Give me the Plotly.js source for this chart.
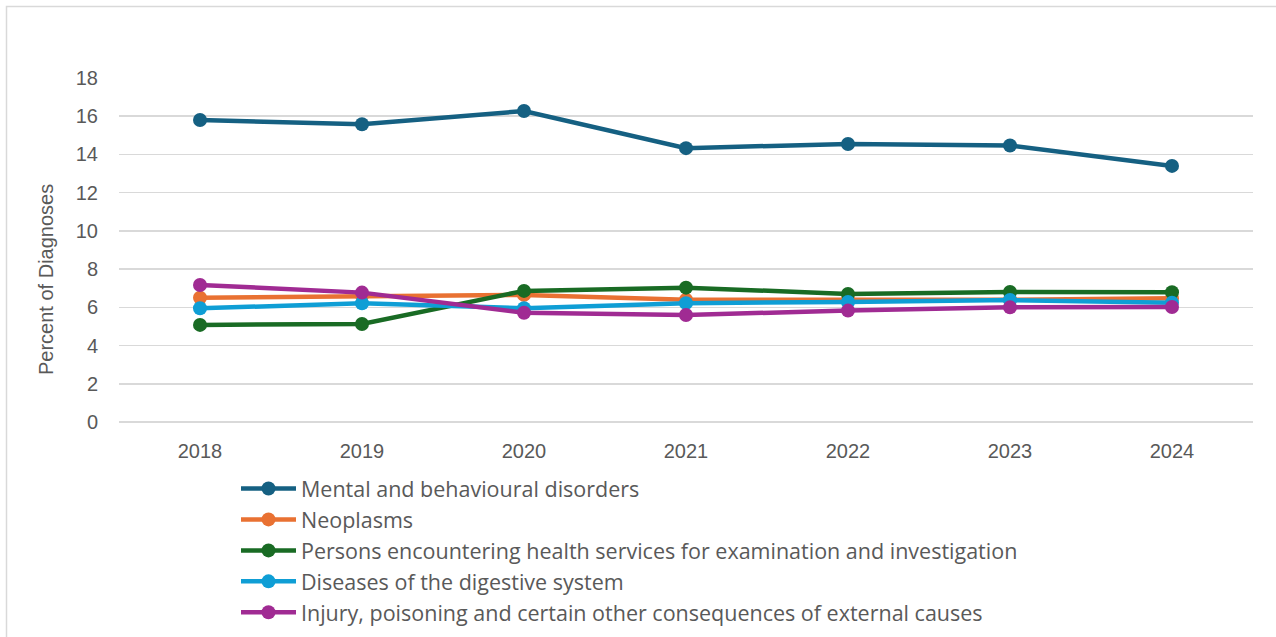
<!DOCTYPE html>
<html><head><meta charset="utf-8">
<script src="https://cdn.plot.ly/plotly-3.0.1.min.js"></script>
<style>html,body{margin:0;padding:0;background:#fff}#chart{width:1276px;height:637px}</style>
</head><body><div id="chart"></div>
<script>
const years = ['2018','2019','2020','2021','2022','2023','2024'];
const seriesNames = [
  'Mental and behavioural disorders',
  'Neoplasms',
  'Persons encountering health services for examination and investigation',
  'Diseases of the digestive system',
  'Injury, poisoning and certain other consequences of external causes'
];
const yTitle = 'Percent of Diagnoses';
const mental    = [15.80, 15.58, 16.27, 14.33, 14.55, 14.47, 13.40];
const neoplasms = [6.50, 6.60, 6.65, 6.40, 6.40, 6.40, 6.47];
const persons   = [5.08, 5.13, 6.86, 7.03, 6.70, 6.80, 6.79];
const digestive = [5.95, 6.21, 5.95, 6.22, 6.28, 6.38, 6.24];
const injury    = [7.17, 6.77, 5.72, 5.60, 5.83, 6.00, 6.02];
const colors = ['#156082','#E97132','#196B24','#0F9ED5','#A02B93'];
const values = [mental, neoplasms, persons, digestive, injury];

const axisFont = "'Liberation Sans', Arial, sans-serif";
const legendFont = "'Open Sans', sans-serif";
const traces = values.map((v,i)=>({
  type:'scatter', mode:'lines+markers', x:years, y:v, name:seriesNames[i],
  legendgroup:'g'+i,
  line:{color:colors[i], width:4.5},
  marker:{color:colors[i], size:14},
  hoverinfo:'skip'
}));

const L=119, R=1253, T=78, B=422, W=1276, H=637;
const px2x = p => (p-L)/(R-L);
const px2y = p => (B-p)/(B-T);

const layout = {
  width:W, height:H,
  margin:{l:L, r:W-R, t:T, b:H-B, autoexpand:false},
  paper_bgcolor:'#fff', plot_bgcolor:'#fff',
  font:{family:axisFont, color:'#595959', size:20},
  showlegend:true,
  xaxis:{type:'category', range:[-0.5,6.5], showgrid:false, zeroline:false,
    showline:false, ticks:'', tickfont:{size:20, color:'#595959'}, ticklabelstandoff:15, fixedrange:true},
  yaxis:{range:[0,18], dtick:2, tick0:0, showgrid:true, gridcolor:'#d9d9d9', gridwidth:1.5,
    zeroline:true, zerolinecolor:'#d9d9d9', zerolinewidth:1.5, showline:false, ticks:'',
    tickfont:{size:20, color:'#595959'}, ticklabelstandoff:20, fixedrange:true},
  annotations:[{text:yTitle, xref:'paper', yref:'paper', x:px2x(46), y:px2y(280),
    xanchor:'center', yanchor:'middle', textangle:-90, showarrow:false,
    font:{family:axisFont, size:20, color:'#595959'}}],
  legend:{orientation:'v', x:px2x(236), y:px2y(468), xanchor:'left', yanchor:'top',
    font:{family:legendFont, size:21.5, color:'#595959'}, traceorder:'grouped', tracegroupgap:0, itemwidth:55,
    bgcolor:'rgba(0,0,0,0)'},
  shapes:[{type:'rect', xref:'paper', yref:'paper', x0:px2x(6.5), x1:px2x(1300), y0:px2y(6.5), y1:px2y(680),
    line:{color:'#d9d9d9', width:1.5}, fillcolor:'rgba(0,0,0,0)', layer:'below'}]
};
Plotly.newPlot('chart', traces, layout, {displayModeBar:false, staticPlot:true});
</script></body></html>
